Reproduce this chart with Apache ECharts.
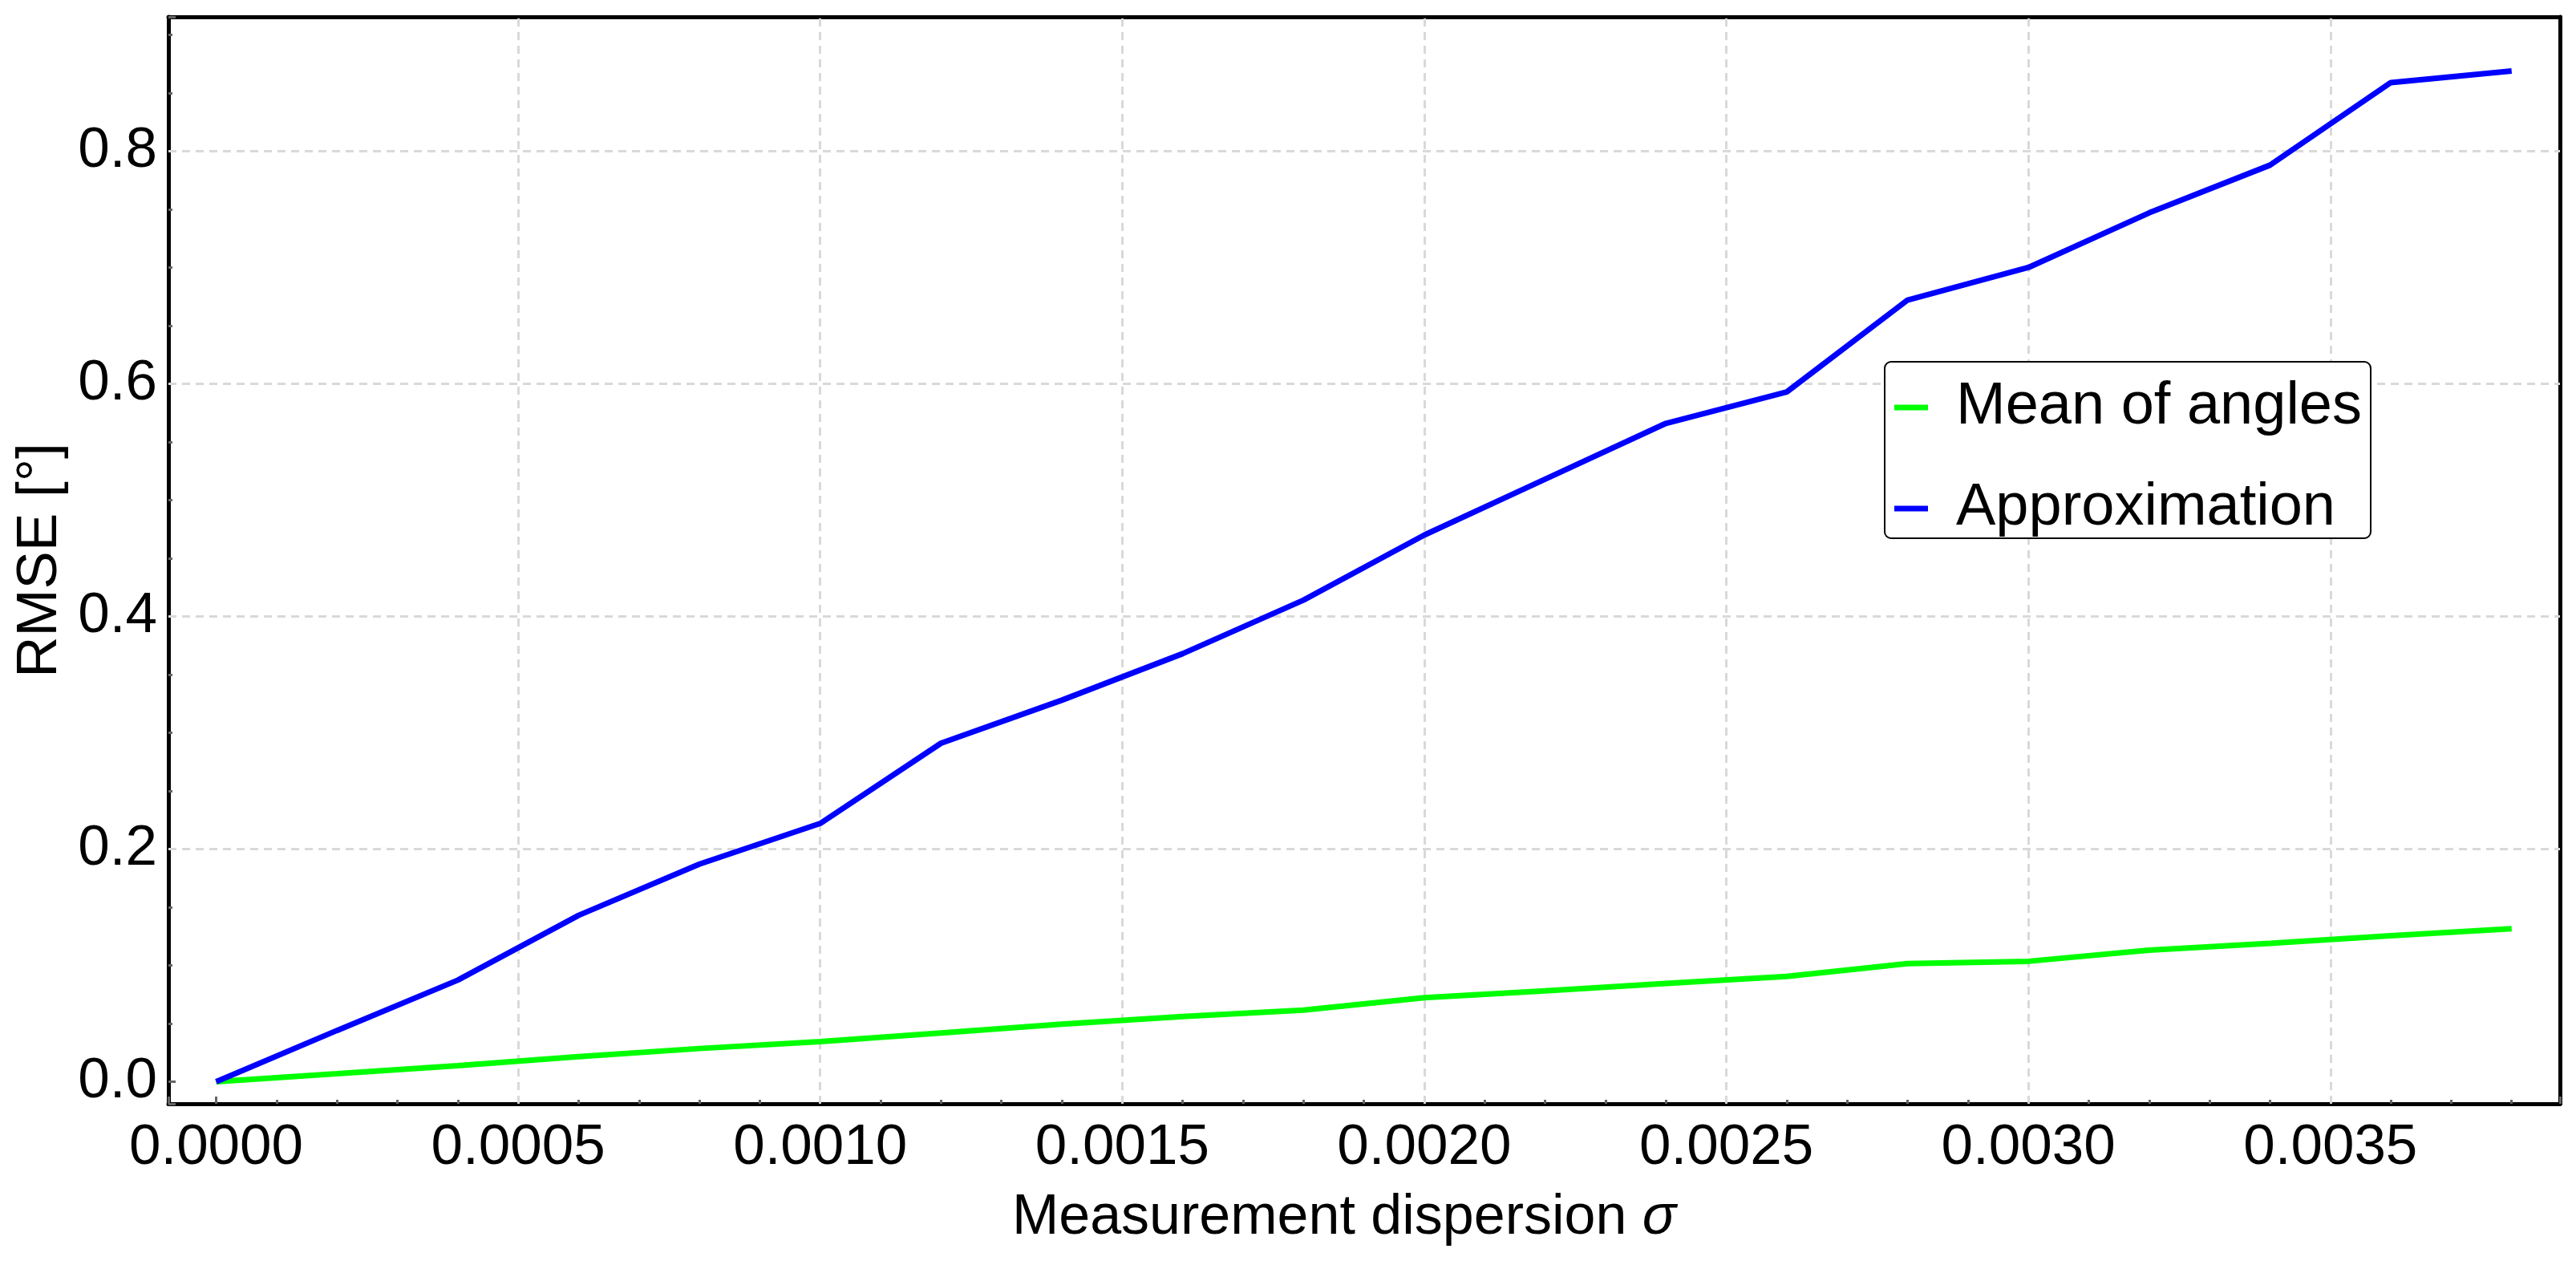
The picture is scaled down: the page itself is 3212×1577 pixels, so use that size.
<!DOCTYPE html>
<html>
<head>
<meta charset="utf-8">
<script src="https://cdn.jsdelivr.net/npm/echarts@6/dist/echarts.min.js"></script>
<style>
html,body{margin:0;padding:0;background:#fff;}
#chart{width:3212px;height:1577px;}
</style>
</head>
<body>
<div id="chart"></div>
<script>
// ---- data ----
const sigma = [0, 0.0002, 0.0004, 0.0006, 0.0008, 0.0010, 0.0012, 0.0014, 0.0016, 0.0018,
               0.0020, 0.0022, 0.0024, 0.0026, 0.0028, 0.0030, 0.0032, 0.0034, 0.0036, 0.0038];
const meanOfAngles = [0, 0.0068, 0.0138, 0.0215, 0.0285, 0.0345, 0.0418, 0.0495, 0.0560, 0.0615,
                      0.0722, 0.0780, 0.0845, 0.0905, 0.1015, 0.1035, 0.1130, 0.1190, 0.1255, 0.1315];
const approximation = [0, 0.044, 0.0873, 0.143, 0.187, 0.222, 0.291, 0.328, 0.368, 0.414,
                       0.470, 0.518, 0.566, 0.593, 0.672, 0.700, 0.747, 0.788, 0.859, 0.869];
const seriesNames = ['Mean of angles', 'Approximation'];
const xGridValues = [0.0005, 0.0010, 0.0015, 0.0020, 0.0025, 0.0030, 0.0035];
const yGridValues = [0.2, 0.4, 0.6, 0.8];
const xStep = 0.0005, yStep = 0.2;
const xMin = -0.000079, xMax = 0.003880;
const yMin = -0.019, yMax = 0.9155;

const FONT = "'Liberation Sans', Arial, Helvetica, sans-serif";
const FS = 71;

function onStep(v, step) {
  const r = v / step;
  return Math.abs(r - Math.round(r)) < 1e-6;
}

const gridLineData = xGridValues.map(v => [{coord: [v, yMin]}, {coord: [v, yMax]}])
  .concat(yGridValues.map(v => [{coord: [xMin, v]}, {coord: [xMax, v]}]));

const chart = echarts.init(document.getElementById('chart'), null, {renderer: 'canvas'});

const frameAxis = {
  show: true,
  axisLine: {show: true, onZero: false, lineStyle: {color: '#000', width: 5}},
  axisTick: {show: false},
  axisLabel: {show: false},
  splitLine: {show: false}
};

const option = {
  animation: false,
  backgroundColor: '#fff',
  textStyle: {fontFamily: FONT},
  grid: {
    left: 210, right: 20, top: 21, bottom: 201,
    show: false
  },
  legend: {
    data: seriesNames,
    orient: 'vertical',
    left: 2350, top: 451,
    padding: [20, 11, 0, 12],
    itemGap: 52,
    itemWidth: 42, itemHeight: 7,
    icon: 'rect',
    backgroundColor: '#fff',
    borderColor: '#000', borderWidth: 2, borderRadius: 8,
    textStyle: {fontFamily: FONT, fontSize: 74, color: '#000', lineHeight: 44, padding: [0, 0, 26, 30]}
  },
  xAxis: [{
    type: 'value',
    min: xMin, max: xMax,
    splitNumber: 8,
    name: 'Measurement dispersion {i|σ}',
    nameLocation: 'middle',
    nameGap: 108,
    nameTextStyle: {fontFamily: FONT, fontSize: 70, color: '#000', padding: [0, 50, 0, 0],
      rich: {i: {fontFamily: FONT, fontSize: 70, fontStyle: 'italic', color: '#000'}}},
    axisLine: {show: true, onZero: false, lineStyle: {color: '#000', width: 5}},
    axisTick: {show: true, inside: true, length: 9, lineStyle: {color: '#666', width: 3}},
    minorTick: {show: true, splitNumber: 5, length: 5, lineStyle: {color: '#666', width: 3}},
    splitLine: {show: false},
    axisLabel: {
      show: true, margin: 20, fontFamily: FONT, fontSize: FS, color: '#000',
      showMinLabel: true, showMaxLabel: true,
      formatter: v => onStep(v, xStep) ? v.toFixed(4) : ''
    }
  }, Object.assign({type: 'value', position: 'top', min: xMin, max: xMax}, frameAxis)],
  yAxis: [{
    type: 'value',
    min: yMin, max: yMax,
    splitNumber: 5,
    name: 'RMSE [°]',
    nameLocation: 'middle',
    nameGap: 120,
    nameTextStyle: {fontFamily: FONT, fontSize: FS, color: '#000'},
    axisLine: {show: true, onZero: false, lineStyle: {color: '#000', width: 5}},
    axisTick: {show: true, inside: true, length: 9, lineStyle: {color: '#666', width: 3}},
    minorTick: {show: true, splitNumber: 4, length: 5, lineStyle: {color: '#666', width: 3}},
    splitLine: {show: false},
    axisLabel: {
      show: true, margin: 14, fontFamily: FONT, fontSize: FS, color: '#000',
      showMinLabel: true, showMaxLabel: true,
      formatter: v => onStep(v, yStep) ? v.toFixed(1) : ''
    }
  }, Object.assign({type: 'value', position: 'right', min: yMin, max: yMax}, frameAxis)],
  series: [
    {
      name: seriesNames[0],
      type: 'line',
      z: 3,
      showSymbol: false,
      symbol: 'none',
      color: '#00ff00',
      lineStyle: {color: '#00ff00', width: 7},
      data: sigma.map((x, i) => [x, meanOfAngles[i]]),
      markLine: {
        silent: true,
        z: 1,
        symbol: 'none',
        label: {show: false},
        emphasis: {disabled: true},
        lineStyle: {type: [10, 7], color: '#d9d9d9', width: 3},
        data: gridLineData
      }
    },
    {
      name: seriesNames[1],
      type: 'line',
      z: 4,
      showSymbol: false,
      symbol: 'none',
      color: '#0000ff',
      lineStyle: {color: '#0000ff', width: 7},
      data: sigma.map((x, i) => [x, approximation[i]])
    }
  ]
};
chart.setOption(option);
</script>
</body>
</html>
